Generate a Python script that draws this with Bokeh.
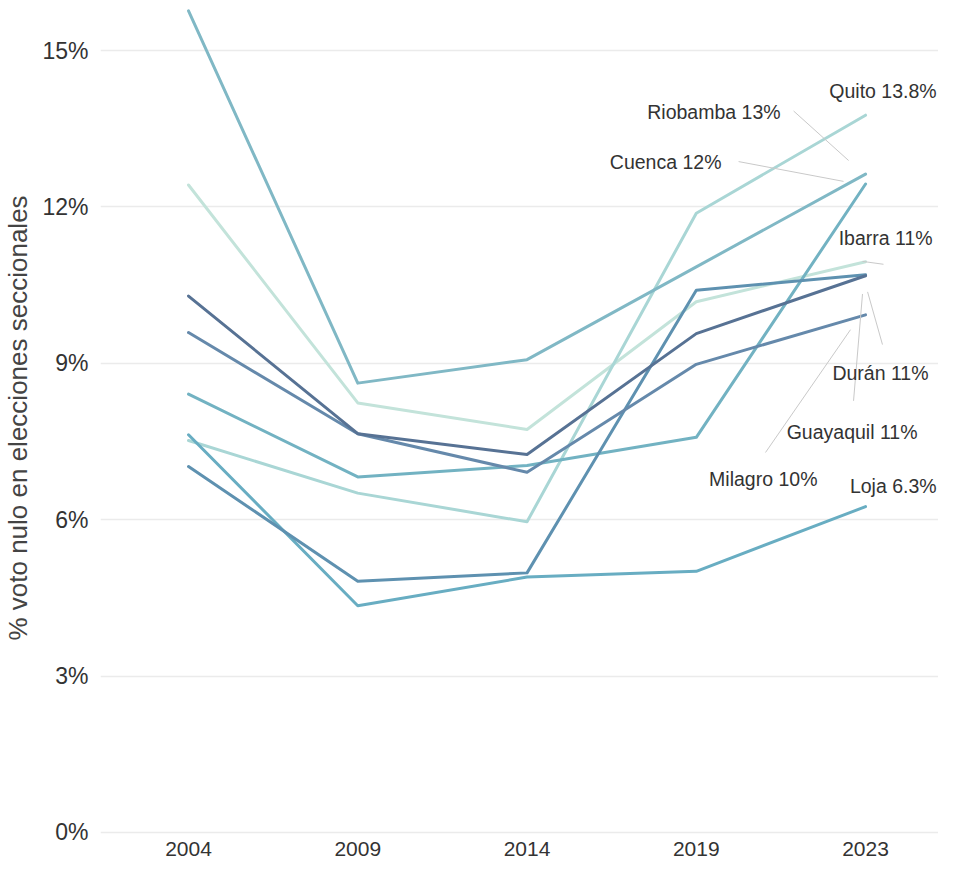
from bokeh.plotting import figure
from bokeh.models import Range1d, FixedTicker, Label
from bokeh.embed import file_html
from bokeh.resources import INLINE

# ---- data ----
years = ["2004", "2009", "2014", "2019", "2023"]
riobamba = [15.76, 8.62, 9.07, 10.85, 12.63]
ibarra = [12.42, 8.24, 7.73, 10.18, 10.95]
duran = [10.29, 7.65, 7.25, 9.57, 10.68]
milagro = [9.59, 7.65, 6.91, 8.98, 9.93]
cuenca = [8.41, 6.82, 7.04, 7.58, 12.44]
quito = [7.52, 6.51, 5.96, 11.88, 13.76]
loja = [7.63, 4.35, 4.90, 5.01, 6.25]
guayaquil = [7.02, 4.82, 4.98, 10.40, 10.70]
y_ticks = [0, 3, 6, 9, 12, 15]
y_tick_labels = ["0%", "3%", "6%", "9%", "12%", "15%"]
city_labels = ["Quito 13.8%", "Riobamba 13%", "Cuenca 12%", "Ibarra 11%",
               "Durán 11%", "Guayaquil 11%", "Milagro 10%", "Loja 6.3%"]
y_title = "% voto nulo en elecciones seccionales"

# ---- styles ----
series = [
    (ibarra, "#c3e3da"),
    (quito, "#a9d6d5"),
    (riobamba, "#80b8c5"),
    (cuenca, "#72b2c2"),
    (loja, "#68adc2"),
    (guayaquil, "#5e91b0"),
    (milagro, "#6589ab"),
    (duran, "#577294"),
]
# label anchors (right edge x index, y value)
label_pos = [(4.420, 14.22), (3.498, 13.82), (3.149, 12.87), (4.396, 11.41),
             (4.372, 8.81), (4.307, 7.69), (3.716, 6.78), (4.420, 6.65)]
connectors = [
    ((3.575, 13.84), (3.900, 12.89)),
    ((3.250, 12.87), (3.870, 12.49)),
    ((3.982, 10.955), (4.106, 10.90)),
    ((4.012, 10.37), (4.100, 9.36)),
    ((3.982, 10.33), (3.929, 8.28)),
    ((3.911, 9.645), (3.409, 7.29)),
]

REG = "'Liberation Sans', Arial, sans-serif"

p = figure(width=938, height=858, output_backend="svg", toolbar_location=None,
           x_range=Range1d(-0.52, 4.431), y_range=Range1d(-0.058, 15.96),
           min_border_left=100, min_border_right=0, min_border_top=0,
           min_border_bottom=23)
p.outline_line_color = None
p.background_fill_color = "white"
p.border_fill_color = "white"

xs = list(range(len(years)))
for vals, col in series:
    p.line(xs, vals, line_color=col, line_width=3.0, line_join="round", line_cap="round")

for (a, b) in connectors:
    p.segment(x0=[a[0]], y0=[a[1]], x1=[b[0]], y1=[b[1]], line_color="#c9c9c9", line_width=1)

for txt, (lx, ly) in zip(city_labels, label_pos):
    p.add_layout(Label(x=lx, y=ly, text=txt, text_align="right", text_baseline="middle",
                       text_font=REG, text_font_size="19.5px", text_color="#333333"))

p.xaxis.ticker = FixedTicker(ticks=xs)
p.xaxis.major_label_overrides = {i: y for i, y in enumerate(years)}
p.yaxis.ticker = FixedTicker(ticks=y_ticks)
p.yaxis.major_label_overrides = {t: l for t, l in zip(y_ticks, y_tick_labels)}

for ax in (p.xaxis[0], p.yaxis[0]):
    ax.axis_line_color = None
    ax.major_tick_line_color = None
    ax.minor_tick_line_color = None
    ax.major_label_text_font = REG
    ax.major_label_text_color = "#333333"

p.xaxis.major_label_text_font_size = "21px"
p.xaxis.major_label_standoff = 0
p.yaxis.major_label_text_font_size = "23px"
p.yaxis.major_label_standoff = 6
p.yaxis.axis_label = y_title
p.yaxis.axis_label_text_font = REG
p.yaxis.axis_label_text_font_style = "normal"
p.yaxis.axis_label_text_font_size = "26px"
p.yaxis.axis_label_text_color = "#444444"
p.yaxis.axis_label_standoff = 6

p.xgrid.grid_line_color = None
p.ygrid.grid_line_color = "#ebebeb"
p.ygrid.grid_line_width = 1.3

open("out.html", "w").write(file_html(p, INLINE))
